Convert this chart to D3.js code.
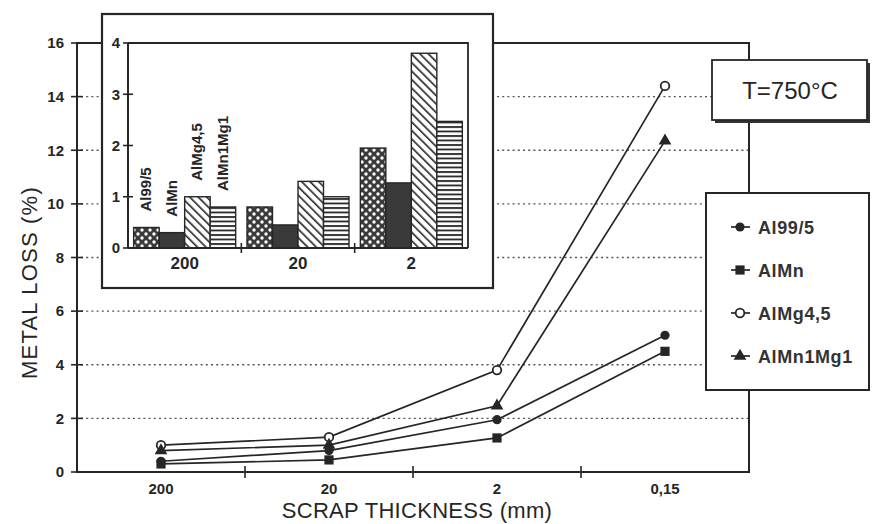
<!DOCTYPE html>
<html>
<head>
<meta charset="utf-8">
<script src="https://cdn.jsdelivr.net/npm/d3@7"></script>
<style>
  html, body { margin: 0; padding: 0; background: #fff; }
  svg { display: block; font-family: "Liberation Sans", Arial, Helvetica, sans-serif; }
</style>
</head>
<body>
<svg id="chart" width="877" height="524"></svg>
<script>
// Scrap thickness categories and metal loss (%) per alloy at T = 750 °C
const categories = ["200", "20", "2", "0,15"];
const insetCategories = ["200", "20", "2"];
const seriesNames = ["Al99/5", "AlMn", "AlMg4,5", "AlMn1Mg1"];
const al995 = [0.4, 0.8, 1.95, 5.1];
const alMn = [0.3, 0.45, 1.27, 4.5];
const alMg45 = [1.0, 1.3, 3.8, 14.4];
const alMn1Mg1 = [0.8, 1.0, 2.47, 12.35];
const yTicks = [0, 2, 4, 6, 8, 10, 12, 14, 16];
const insetTicks = [0, 1, 2, 3, 4];
const yTitle = "METAL LOSS (%)";
const xTitle = "SCRAP THICKNESS (mm)";
const tempLabel = "T=750°C";

const seriesValues = [al995, alMn, alMg45, alMn1Mg1];
const markers = ["dot", "square", "ring", "triangle"];
const ink = "#262626";

const svg = d3.select("#chart");

// ---------- hatch patterns for the inset bars ----------
const defs = svg.append("defs");
const pDots = defs.append("pattern").attr("id", "p-dots")
  .attr("patternUnits", "userSpaceOnUse").attr("width", 8).attr("height", 8);
pDots.append("rect").attr("width", 8).attr("height", 8).attr("fill", "#3a3a3a");
pDots.append("circle").attr("cx", 2).attr("cy", 2).attr("r", 1.7).attr("fill", "#fff");
pDots.append("circle").attr("cx", 6).attr("cy", 6).attr("r", 1.7).attr("fill", "#fff");

const pDiag = defs.append("pattern").attr("id", "p-diag")
  .attr("patternUnits", "userSpaceOnUse").attr("width", 6).attr("height", 6)
  .attr("patternTransform", "rotate(-45)");
pDiag.append("rect").attr("width", 6).attr("height", 6).attr("fill", "#fff");
pDiag.append("line").attr("x1", 0).attr("y1", 0).attr("x2", 0).attr("y2", 6)
  .attr("stroke", "#222").attr("stroke-width", 3.2);

const pHoriz = defs.append("pattern").attr("id", "p-horiz")
  .attr("patternUnits", "userSpaceOnUse").attr("width", 6).attr("height", 4.5);
pHoriz.append("rect").attr("width", 6).attr("height", 4.5).attr("fill", "#fff");
pHoriz.append("line").attr("x1", 0).attr("y1", 1).attr("x2", 6).attr("y2", 1)
  .attr("stroke", "#222").attr("stroke-width", 1.8);

const barFills = ["url(#p-dots)", "#3a3a3a", "url(#p-diag)", "url(#p-horiz)"];

// ---------- main chart ----------
const x = d3.scaleBand().domain(categories).range([77, 749]);
const y = d3.scaleLinear().domain([0, 16]).range([472, 43]);
const [x0, x1] = x.range();

// dotted grid
svg.append("g").selectAll("line")
  .data(yTicks.filter(v => v > 0 && v < 16))
  .join("line")
  .attr("x1", x0 + 4).attr("x2", x1)
  .attr("y1", d => y(d)).attr("y2", d => y(d))
  .attr("stroke", "#555").attr("stroke-width", 1.4)
  .attr("stroke-dasharray", "2,3.2");

// frame
svg.append("rect")
  .attr("x", x0).attr("y", y(16))
  .attr("width", x1 - x0).attr("height", y(0) - y(16))
  .attr("fill", "none").attr("stroke", ink).attr("stroke-width", 2);

// y axis ticks and labels
const yAxis = d3.axisLeft(y).tickValues(yTicks).tickSize(0).tickPadding(13);
const gy = svg.append("g").attr("transform", `translate(${x0},0)`).call(yAxis);
gy.select(".domain").remove();
gy.selectAll("text").attr("font-size", 15).attr("font-weight", "bold")
  .attr("fill", ink).attr("font-family", "Liberation Sans, Arial, sans-serif");
svg.append("g").selectAll("line").data(yTicks).join("line")
  .attr("x1", x0 - 6).attr("x2", x0 + 6)
  .attr("y1", d => y(d)).attr("y2", d => y(d))
  .attr("stroke", ink).attr("stroke-width", 1.6);

// x axis labels and boundary ticks
const xAxis = d3.axisBottom(x).tickSize(0).tickPadding(11);
const gx = svg.append("g").attr("transform", `translate(0,${y(0)})`).call(xAxis);
gx.select(".domain").remove();
gx.selectAll("text").attr("font-size", 15).attr("font-weight", "bold")
  .attr("fill", ink).attr("font-family", "Liberation Sans, Arial, sans-serif");
svg.append("g").selectAll("line")
  .data(categories.slice(1))
  .join("line")
  .attr("x1", d => x(d)).attr("x2", d => x(d))
  .attr("y1", y(0) - 6).attr("y2", y(0) + 6)
  .attr("stroke", ink).attr("stroke-width", 1.6);

// axis titles
svg.append("text")
  .attr("transform", `translate(37,${(y(0) + y(16)) / 2 + 25}) rotate(-90)`)
  .attr("text-anchor", "middle").attr("font-size", 22)
  .attr("letter-spacing", 1.2).attr("fill", ink).text(yTitle);
svg.append("text")
  .attr("x", 417).attr("y", 518).attr("text-anchor", "middle")
  .attr("font-size", 22).attr("letter-spacing", 0.3).attr("fill", ink).text(xTitle);

// marker drawing
function drawMarker(g, kind, cx, cy) {
  if (kind === "dot") {
    g.append("circle").attr("cx", cx).attr("cy", cy).attr("r", 4.6).attr("fill", ink);
  } else if (kind === "square") {
    g.append("rect").attr("x", cx - 4.6).attr("y", cy - 4.6)
      .attr("width", 9.2).attr("height", 9.2).attr("fill", ink);
  } else if (kind === "ring") {
    g.append("circle").attr("cx", cx).attr("cy", cy).attr("r", 4.3)
      .attr("fill", "#fff").attr("stroke", ink).attr("stroke-width", 1.8);
  } else {
    g.append("path")
      .attr("d", d3.symbol(d3.symbolTriangle, 70)())
      .attr("transform", `translate(${cx},${cy})`).attr("fill", ink);
  }
}

// series lines and markers
const line = d3.line()
  .x((d, i) => x(categories[i]) + x.bandwidth() / 2)
  .y(d => y(d));
const gSeries = svg.append("g");
seriesValues.forEach((vals, s) => {
  gSeries.append("path").attr("d", line(vals))
    .attr("fill", "none").attr("stroke", ink).attr("stroke-width", 1.7);
});
seriesValues.forEach((vals, s) => {
  vals.forEach((v, i) => {
    drawMarker(gSeries, markers[s], x(categories[i]) + x.bandwidth() / 2, y(v));
  });
});

// ---------- inset bar chart ----------
svg.append("rect")
  .attr("x", 102).attr("y", 14).attr("width", 391).attr("height", 274)
  .attr("fill", "#fff").attr("stroke", ink).attr("stroke-width", 2.2);

const xi = d3.scaleBand().domain(insetCategories).range([128, 468])
  .paddingInner(0.1).paddingOuter(0.05);
const xs = d3.scaleBand().domain(seriesNames).range([0, xi.bandwidth()]);
const yi = d3.scaleLinear().domain([0, 4]).range([248, 43]);
const [xi0, xi1] = xi.range();

// inset bars
const gBars = svg.append("g");
seriesNames.forEach((name, s) => {
  gBars.selectAll(null)
    .data(insetCategories.map((c, i) => ({ c, v: seriesValues[s][i] })))
    .join("rect")
    .attr("x", d => xi(d.c) + xs(name))
    .attr("y", d => yi(d.v))
    .attr("width", xs.bandwidth())
    .attr("height", d => yi(0) - yi(d.v))
    .attr("fill", barFills[s])
    .attr("stroke", ink).attr("stroke-width", 1.4);
});

// inset frame (top/right) and axes
svg.append("path")
  .attr("d", `M${xi0},${yi(4)}H${xi1}V${yi(0)}`)
  .attr("fill", "none").attr("stroke", ink).attr("stroke-width", 1.8);
svg.append("line").attr("x1", xi0).attr("x2", xi0).attr("y1", yi(4)).attr("y2", yi(0))
  .attr("stroke", ink).attr("stroke-width", 2);
svg.append("line").attr("x1", xi0).attr("x2", xi1).attr("y1", yi(0)).attr("y2", yi(0))
  .attr("stroke", ink).attr("stroke-width", 2);

svg.append("g").selectAll("line").data(insetTicks).join("line")
  .attr("x1", xi0 - 5).attr("x2", xi0 + 5)
  .attr("y1", d => yi(d)).attr("y2", d => yi(d))
  .attr("stroke", ink).attr("stroke-width", 1.6);
const giy = svg.append("g").attr("transform", `translate(${xi0},0)`)
  .call(d3.axisLeft(yi).tickValues(insetTicks).tickFormat(d3.format("d"))
    .tickSize(0).tickPadding(8));
giy.select(".domain").remove();
giy.selectAll("text").attr("font-size", 15).attr("font-weight", "bold")
  .attr("fill", ink).attr("font-family", "Liberation Sans, Arial, sans-serif");

const step = xi.step();
svg.append("g").selectAll("line")
  .data(insetCategories.slice(1))
  .join("line")
  .attr("x1", d => xi(d) - step * xi.paddingInner() / 2)
  .attr("x2", d => xi(d) - step * xi.paddingInner() / 2)
  .attr("y1", yi(0) - 5).attr("y2", yi(0) + 5)
  .attr("stroke", ink).attr("stroke-width", 1.6);
const gix = svg.append("g").attr("transform", `translate(0,${yi(0)})`)
  .call(d3.axisBottom(xi).tickSize(0).tickPadding(9));
gix.select(".domain").remove();
gix.selectAll("text").attr("font-size", 17).attr("font-weight", "bold")
  .attr("fill", ink).attr("font-family", "Liberation Sans, Arial, sans-serif");

// rotated series names above the first group of bars
seriesNames.forEach((name, s) => {
  const cx = xi(insetCategories[0]) + xs(name) + xs.bandwidth() / 2 + 5;
  const top = yi(seriesValues[s][0]) - 16;
  svg.append("text")
    .attr("transform", `translate(${cx},${top}) rotate(-90)`)
    .attr("font-size", 15).attr("font-weight", "bold").attr("fill", ink)
    .text(name);
});

// ---------- temperature box ----------
svg.append("rect").attr("x", 715).attr("y", 63).attr("width", 155).attr("height", 60)
  .attr("fill", "#333");
svg.append("rect").attr("x", 712).attr("y", 60).attr("width", 155).attr("height", 60)
  .attr("fill", "#fff").attr("stroke", ink).attr("stroke-width", 1.8);
svg.append("text").attr("x", 790).attr("y", 99).attr("text-anchor", "middle")
  .attr("font-size", 24).attr("fill", ink).text(tempLabel);

// ---------- legend ----------
svg.append("rect").attr("x", 706).attr("y", 193).attr("width", 163).attr("height", 197)
  .attr("fill", "#fff").attr("stroke", ink).attr("stroke-width", 2);
const legendRows = [227, 270, 313, 356];
seriesNames.forEach((name, s) => {
  const ly = legendRows[s];
  svg.append("line").attr("x1", 731).attr("x2", 750).attr("y1", ly).attr("y2", ly)
    .attr("stroke", ink).attr("stroke-width", 1.7);
  drawMarker(svg, markers[s], 740, ly);
  svg.append("text").attr("x", 758).attr("y", ly + 6.5)
    .attr("font-size", 18).attr("font-weight", "bold").attr("letter-spacing", 0.6)
    .attr("fill", "#333").text(name);
});
</script>
</body>
</html>
